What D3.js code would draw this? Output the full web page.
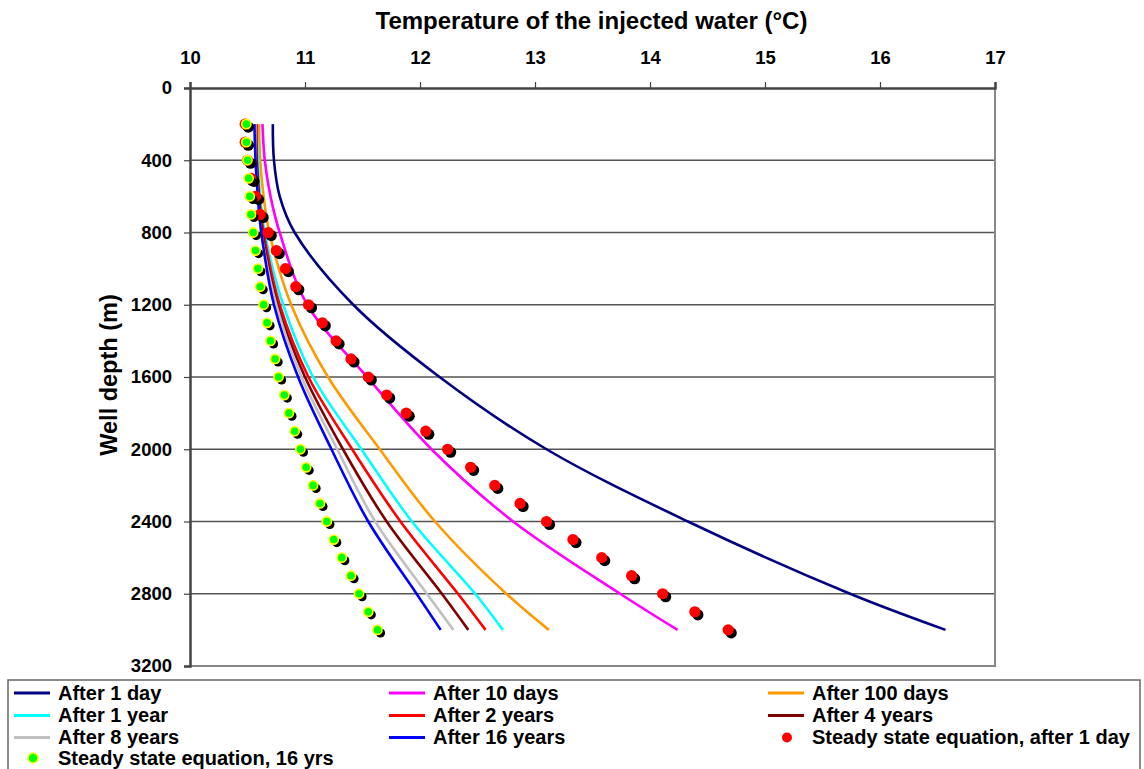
<!DOCTYPE html>
<html>
<head>
<meta charset="utf-8">
<script src="https://cdn.jsdelivr.net/npm/d3@7"></script>
<style>
  html, body { margin: 0; padding: 0; background: #fff; }
  svg { display: block; font-family: "Liberation Sans", Arial, sans-serif; font-weight: bold; }
</style>
</head>
<body>
<svg id="chart" width="1144" height="769"></svg>
<script>
// Depths (m) at which the modelled temperature profiles are sampled
const profileDepths = [200, 400, 600, 800, 1200, 1600, 2000, 2400, 2800, 3000];

// Injected water temperature (°C) for each elapsed time
const after1Day    = [10.72, 10.73, 10.78, 10.91, 11.42, 12.17, 13.10, 14.33, 15.74, 16.57];
const after10Days  = [10.63, 10.65, 10.70, 10.78, 11.02, 11.54, 12.10, 12.81, 13.74, 14.24];
const after100Days = [10.60, 10.61, 10.64, 10.69, 10.88, 11.20, 11.65, 12.13, 12.75, 13.12];
const after1Year   = [10.58, 10.59, 10.61, 10.65, 10.81, 11.07, 11.49, 11.93, 12.48, 12.72];
const after2Years  = [10.58, 10.58, 10.60, 10.64, 10.78, 11.03, 11.41, 11.83, 12.33, 12.57];
const after4Years  = [10.57, 10.58, 10.60, 10.63, 10.76, 11.00, 11.33, 11.71, 12.19, 12.42];
const after8Years  = [10.57, 10.57, 10.59, 10.62, 10.75, 10.97, 11.28, 11.61, 12.06, 12.29];
const after16Years = [10.56, 10.57, 10.59, 10.62, 10.73, 10.94, 11.23, 11.55, 11.97, 12.18];

// Steady state solutions, every 100 m
const steadyDepths = [200, 300, 400, 500, 600, 700, 800, 900, 1000, 1100, 1200, 1300, 1400, 1500,
  1600, 1700, 1800, 1900, 2000, 2100, 2200, 2300, 2400, 2500, 2600, 2700, 2800, 2900, 3000];
const steady1Day = [10.48, 10.48, 10.50, 10.53, 10.57, 10.61, 10.68, 10.75, 10.83, 10.92, 11.03,
  11.15, 11.27, 11.40, 11.55, 11.71, 11.88, 12.05, 12.24, 12.44, 12.65, 12.87, 13.10, 13.33,
  13.58, 13.84, 14.11, 14.39, 14.68];
const steady16Yrs = [10.49, 10.49, 10.50, 10.51, 10.52, 10.53, 10.55, 10.57, 10.59, 10.61, 10.64,
  10.67, 10.70, 10.74, 10.77, 10.82, 10.86, 10.91, 10.96, 11.01, 11.07, 11.13, 11.19, 11.25,
  11.32, 11.40, 11.47, 11.55, 11.63];

// Axis ticks
const tempTicks = [10, 11, 12, 13, 14, 15, 16, 17];
const depthTicks = [0, 400, 800, 1200, 1600, 2000, 2400, 2800, 3200];

const lineSeries = [
  { name: "After 1 day",    values: after1Day,    color: "#000080" },
  { name: "After 10 days",  values: after10Days,  color: "#ff00ff" },
  { name: "After 100 days", values: after100Days, color: "#ff9900" },
  { name: "After 1 year",   values: after1Year,   color: "#00ffff" },
  { name: "After 2 years",  values: after2Years,  color: "#ff0000" },
  { name: "After 4 years",  values: after4Years,  color: "#800000" },
  { name: "After 8 years",  values: after8Years,  color: "#c0c0c0" },
  { name: "After 16 years", values: after16Years, color: "#0000ff" }
];

const svg = d3.select("#chart");
const plot = { left: 190, right: 995, top: 88, bottom: 666 };

const x = d3.scaleLinear().domain([10, 17]).range([plot.left, plot.right]);
const y = d3.scaleLinear().domain([0, 3200]).range([plot.top, plot.bottom]);

// Horizontal gridlines
svg.append("g")
  .selectAll("line")
  .data(depthTicks.filter(d => d > 0 && d < 3200))
  .join("line")
  .attr("x1", plot.left).attr("x2", plot.right)
  .attr("y1", d => y(d)).attr("y2", d => y(d))
  .attr("stroke", "#555").attr("stroke-width", 1.3);

// Plot frame (right and bottom)
svg.append("path")
  .attr("d", `M${plot.right},${plot.top}V${plot.bottom}H${plot.left}`)
  .attr("fill", "none").attr("stroke", "#888").attr("stroke-width", 2);

// Temperature axis along the top
const xAxis = svg.append("g")
  .attr("transform", `translate(0,${plot.top})`)
  .call(d3.axisTop(x).tickValues(tempTicks).tickSize(6).tickPadding(18).tickFormat(d3.format("d")));
xAxis.select(".domain").attr("stroke", "#444").attr("stroke-width", 2.5);
xAxis.selectAll(".tick line").attr("stroke", "#444").attr("stroke-width", 1.2);
xAxis.selectAll(".tick text").attr("font-size", 18.5).attr("font-weight", "bold").attr("fill", "#000")
  .attr("font-family", "Liberation Sans, Arial, sans-serif");

// Depth axis on the left
const yAxis = svg.append("g")
  .attr("transform", `translate(${plot.left},0)`)
  .call(d3.axisLeft(y).tickValues(depthTicks).tickSize(6).tickPadding(12).tickFormat(d3.format("d")));
yAxis.select(".domain").attr("stroke", "#444").attr("stroke-width", 2.5);
yAxis.selectAll(".tick line").attr("stroke", "#444").attr("stroke-width", 1.2);
yAxis.selectAll(".tick text").attr("font-size", 18.5).attr("font-weight", "bold").attr("fill", "#000")
  .attr("font-family", "Liberation Sans, Arial, sans-serif");

// Axis titles
svg.append("text")
  .attr("x", (plot.left + plot.right) / 2 - 1).attr("y", 29)
  .attr("text-anchor", "middle").attr("font-size", 24)
  .text("Temperature of the injected water (°C)");

svg.append("text")
  .attr("transform", `translate(117,${(plot.top + plot.bottom) / 2 - 2}) rotate(-90)`)
  .attr("text-anchor", "middle").attr("font-size", 23.5)
  .text("Well depth (m)");

// Temperature profiles
const line = d3.line()
  .x(d => x(d[1]))
  .y(d => y(d[0]))
  .curve(d3.curveCatmullRom.alpha(0.5));

svg.append("g")
  .selectAll("path")
  .data(lineSeries)
  .join("path")
  .attr("d", s => line(profileDepths.map((dep, i) => [dep, s.values[i]])))
  .attr("fill", "none")
  .attr("stroke", s => s.color)
  .attr("stroke-width", 2.6);

// Steady state markers with drop shadows
function drawMarkers(values, fill, stroke, r) {
  const g = svg.append("g");
  const pts = steadyDepths.map((dep, i) => [dep, values[i]]);
  g.selectAll("circle.shadow").data(pts).join("circle")
    .attr("class", "shadow")
    .attr("cx", d => x(d[1]) + 3).attr("cy", d => y(d[0]) + 3)
    .attr("r", r).attr("fill", "#000");
  g.selectAll("circle.mark").data(pts).join("circle")
    .attr("class", "mark")
    .attr("cx", d => x(d[1])).attr("cy", d => y(d[0]))
    .attr("r", r).attr("fill", fill)
    .attr("stroke", stroke).attr("stroke-width", stroke === "none" ? 0 : 1.6);
}
drawMarkers(steady1Day, "#ff0000", "none", 5.6);
drawMarkers(steady16Yrs, "#00ff00", "#ffff00", 4.6);

// Legend
const legend = svg.append("g");
legend.append("rect")
  .attr("x", 8).attr("y", 680).attr("width", 1132).attr("height", 100)
  .attr("fill", "#fff").attr("stroke", "#666").attr("stroke-width", 1.5);

const legendItems = lineSeries.map(s => ({ name: s.name, type: "line", color: s.color }))
  .concat([
    { name: "Steady state equation, after 1 day", type: "dot", color: "#ff0000", stroke: "none" },
    { name: "Steady state equation, 16 yrs", type: "dot", color: "#00ff00", stroke: "#ffff00" }
  ]);
const colX = [14, 389, 768];
const rowY = [693, 715.5, 737.5, 758];

const item = legend.selectAll("g.item")
  .data(legendItems)
  .join("g")
  .attr("class", "item")
  .attr("transform", (d, i) => `translate(${colX[i % 3]},${rowY[Math.floor(i / 3)]})`);

item.filter(d => d.type === "line").append("line")
  .attr("x1", 0).attr("x2", 36).attr("y1", 0).attr("y2", 0)
  .attr("stroke", d => d.color).attr("stroke-width", 3);
item.filter(d => d.type === "dot").append("circle")
  .attr("cx", 19).attr("cy", 0).attr("r", 5)
  .attr("fill", d => d.color)
  .attr("stroke", d => d.stroke).attr("stroke-width", d => d.stroke === "none" ? 0 : 1.6);
item.append("text")
  .attr("x", 44).attr("y", 0).attr("dy", "0.34em")
  .attr("font-size", 20)
  .text(d => d.name);
</script>
</body>
</html>
